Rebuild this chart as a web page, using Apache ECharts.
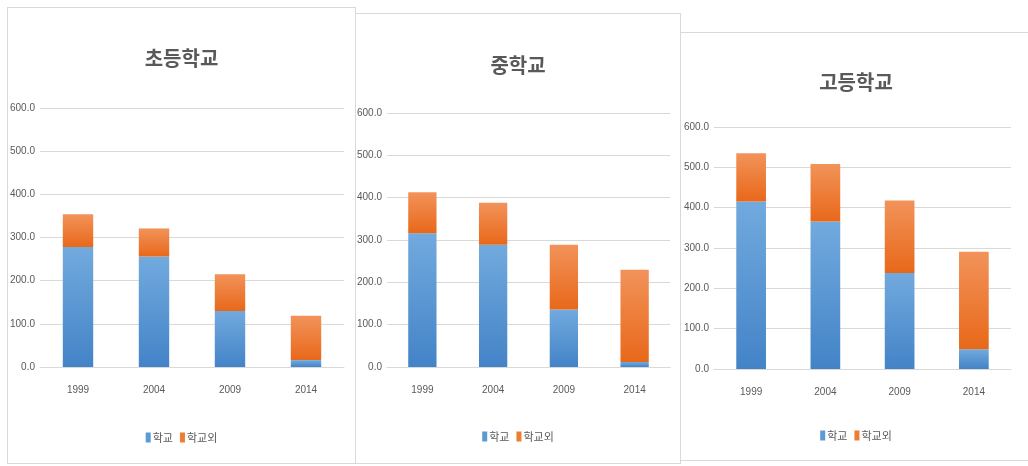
<!DOCTYPE html>
<html><head><meta charset="utf-8">
<script src="https://cdn.jsdelivr.net/npm/echarts@6/dist/echarts.min.js"></script>
<style>
html,body{margin:0;padding:0;background:#fff;width:1028px;height:466px;overflow:hidden;position:relative}
.p{position:absolute;background:#fff;border:1px solid #d9d9d9;box-sizing:border-box}
</style></head><body>
<div id="c3" class="p" style="left:680px;top:32px;width:352px;height:429px"></div>
<div id="c2" class="p" style="left:355px;top:13px;width:326px;height:451px"></div>
<div id="c1" class="p" style="left:7px;top:7px;width:349px;height:457px"></div>
<script>
const years = ['1999', '2004', '2009', '2014'];
const seriesNames = ['학교', '학교외'];
const titles = ['초등학교', '중학교', '고등학교'];
const elemSchool = [278, 256, 130, 16];
const elemOutside = [76, 65, 85, 103];
const midSchool = [316, 289, 136, 12];
const midOutside = [97, 99, 153, 218];
const highSchool = [415, 366, 238, 49];
const highOutside = [120, 142, 180, 242];
const yMin = 0, yMax = 600, yStep = 100;

const txt = '#595959';
const numFont = '"Liberation Sans",Arial,sans-serif';
const krFont = '"Noto Sans CJK KR","Noto Sans",sans-serif';

function grad(top, bottom){
  return new echarts.graphic.LinearGradient(0,0,0,1,[{offset:0,color:top},{offset:1,color:bottom}]);
}
const blue = grad('#72aade', '#4383c7');
const orange = grad('#f2935a', '#e8681a');

function make(id, title, school, outside, L){
  const ch = echarts.init(document.getElementById(id), null, {renderer:'canvas'});
  ch.setOption({
    animation:false,
    backgroundColor:'#fff',
    title:{text:title,left:'center',top:L.titleTop,
      textStyle:{fontFamily:krFont,fontSize:20,fontWeight:'bold',color:txt}},
    legend:{data:[{name:seriesNames[0],itemStyle:{color:'#5b9bd5'}},{name:seriesNames[1],itemStyle:{color:'#ed7d31'}}],
      left:'center',top:L.legendTop,itemWidth:5,itemHeight:10,itemGap:7,icon:'rect',
      textStyle:{fontFamily:krFont,fontSize:11,color:txt,padding:[0,0,0,-3]}},
    grid:{left:L.left,right:L.right,top:L.top,bottom:L.bottom,containLabel:false,outerBoundsMode:'none'},
    xAxis:{type:'category',data:years,
      axisLine:{lineStyle:{color:'#d9d9d9'}},axisTick:{show:false},
      axisLabel:{fontFamily:numFont,fontSize:10,color:txt,margin:18}},
    yAxis:{type:'value',min:yMin,max:yMax,interval:yStep,
      axisLine:{show:false},axisTick:{show:false},
      splitLine:{lineStyle:{color:'#d9d9d9'}},
      axisLabel:{fontFamily:numFont,fontSize:10,color:txt,margin:5,formatter:v=>v.toFixed(1)}},
    series:[
      {name:seriesNames[0],type:'bar',stack:'s',data:school,barWidth:'40%',itemStyle:{color:blue}},
      {name:seriesNames[1],type:'bar',stack:'s',data:outside,barWidth:'40%',itemStyle:{color:orange}}
    ]
  });
}
make('c1', titles[0], elemSchool, elemOutside, {left:32,right:11,top:100,bottom:96,titleTop:35,legendTop:419});
make('c2', titles[1], midSchool, midOutside, {left:31,right:10,top:99,bottom:96,titleTop:36,legendTop:412});
make('c3', titles[2], highSchool, highOutside, {left:33,right:20,top:94,bottom:91,titleTop:34,legendTop:392});
</script>
</body></html>
